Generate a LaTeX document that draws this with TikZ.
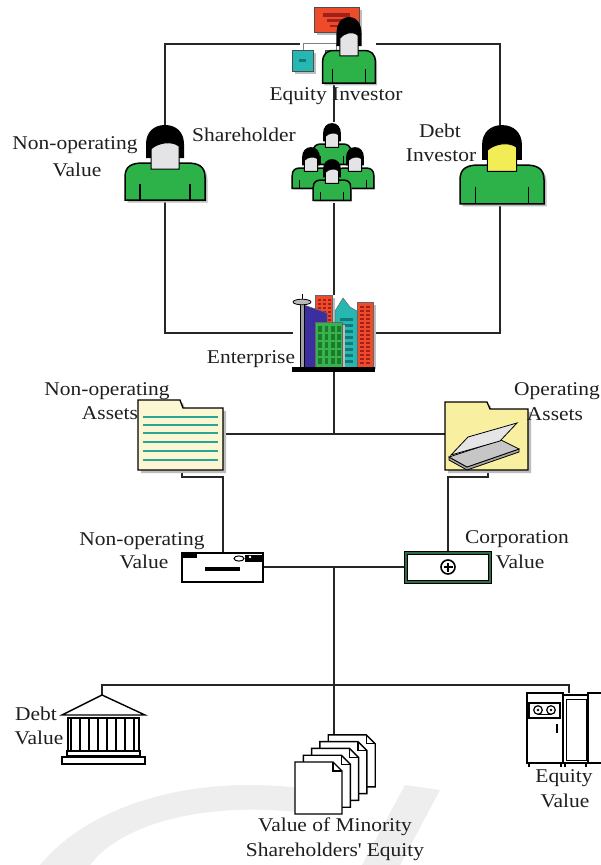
\documentclass[tikz,border=0pt]{standalone}
\usepackage{fontspec}
\setmainfont{Liberation Serif}[FakeStretch=1.1]
\usetikzlibrary{calc}
\definecolor{pgreen}{HTML}{2DB24A}
\definecolor{pface}{HTML}{E4E4E6}
\definecolor{pyellow}{HTML}{F2EC55}
\definecolor{pshadow}{HTML}{BDBDBD}
\definecolor{bred}{HTML}{EE4B2B}
\definecolor{bdred}{HTML}{A3201A}
\definecolor{bteal}{HTML}{27B7B3}
\definecolor{bdteal}{HTML}{147A78}
\definecolor{bblue}{HTML}{3B2E9E}
\definecolor{bgreen}{HTML}{35B44A}
\definecolor{bdgreen}{HTML}{1E7A2E}
\definecolor{fpale}{HTML}{FBF7D2}
\definecolor{fyellow}{HTML}{F8F0A0}
\definecolor{fline}{HTML}{2AA594}
\definecolor{cvgreen}{HTML}{2F6B45}
\definecolor{wmark}{HTML}{EEEEEE}
\newcommand\lblfont{\fontsize{19.5}{25}\selectfont}
\newcommand\PersonBody{(-40,37) -- (-40,14) .. controls (-40,3) and (-33,0) .. (-22,0) -- (22,0) .. controls (33,0) and (40,3) .. (40,14) -- (40,37) -- cycle}
\tikzset{
  pics/person/.style={code={
    \fill[pshadow,shift={(2.5,2.5)}] \PersonBody;
    \filldraw[fill=pgreen, draw=black, line width=1.5pt] \PersonBody;
    \draw[line width=1.2pt] (-25,37) -- (-25,21) (25,37) -- (25,21);
    \fill[black] (-19,-5) -- (-19,-19) .. controls (-19,-31) and (-11,-38) .. (0,-38) .. controls (11,-38) and (19,-31) .. (19,-19) -- (19,-5) -- cycle;
    \filldraw[fill=#1, draw=black, line width=1pt] (-14,6) -- (-14,-14) .. controls (-8,-20) and (6,-23) .. (14,-17) -- (14,6) -- cycle;
  }}
}
\begin{document}
\begin{tikzpicture}[x=1pt,y=-1pt,
  conn/.style={line width=1.5pt, draw=black!85},
  lbl/.style={anchor=base, inner sep=0pt, text=black!88, font=\lblfont},
  outl/.style={draw=black, line width=1.3pt},
  page/.style={fill=white, draw=black, line width=1.4pt, line join=miter}]
\useasboundingbox (0,0) rectangle (600,865);
\fill[white] (0,0) rectangle (600,865);

% faint background marks at the foot
\fill[wmark] (40,865) .. controls (90,805) and (190,775) .. (300,788) -- (296,812) .. controls (200,802) and (120,825) .. (90,865) -- cycle;
\fill[wmark] (405,785) -- (440,790) -- (400,865) -- (362,865) -- cycle;

% ---------- connection points ----------
\coordinate (eqL) at (300,44);
\coordinate (eqR) at (376,44);
\coordinate (eqB) at (334,75);
\coordinate (lpT) at (165,125);
\coordinate (lpB) at (165,200);
\coordinate (dbT) at (500,126);
\coordinate (dbB) at (500,204);
\coordinate (shT) at (334,122);
\coordinate (shB) at (334,203);
\coordinate (entT) at (334,295);
\coordinate (entL) at (293,333);
\coordinate (entR) at (375,333);
\coordinate (entB) at (334,372);
\coordinate (asJ) at (334,434);
\coordinate (naR) at (224,434);
\coordinate (oaL) at (445,434);
\coordinate (naB) at (182,470);
\coordinate (oaB) at (488,470);
\coordinate (nvT) at (223,553);
\coordinate (cvT) at (448,553);
\coordinate (nvR) at (263,567);
\coordinate (cvL) at (406,567);
\coordinate (vJ) at (334,567);
\coordinate (docT) at (334,735);
\coordinate (bankT) at (102,695);
\coordinate (macT) at (569,693);

% ---------- connectors ----------
\draw[conn] (eqL) -- (165,44) -- (lpT);
\draw[conn] (eqR) -- (500,44) -- (dbT);
\draw[conn] (eqB) -- (shT);
\draw[conn] (shB) -- (entT);
\draw[conn] (lpB) -- (165,333) -- (entL);
\draw[conn] (dbB) -- (500,333) -- (entR);
\draw[conn] (entB) -- (asJ);
\draw[conn] (naR) -- (oaL);
\draw[conn] (naB) -- (182,477) -- (223,477) -- (nvT);
\draw[conn] (oaB) -- (488,477) -- (448,477) -- (cvT);
\draw[conn] (nvR) -- (cvL);
\draw[conn] (vJ) -- (docT);
\draw[conn] (bankT) -- (102,685) -- (569,685) -- (macT);

% ---------- equity investor ----------
\fill[pshadow] (317,10) rectangle (362,35);
\filldraw[fill=bred, draw=black!70, line width=0.8pt] (314,7) rectangle (359,32);
\fill[bdred] (323,13) rectangle (350,16.5);
\fill[bdred] (327,19) rectangle (346,22);
\fill[bdred] (330,24.5) rectangle (341,27);
\draw[gray, line width=1pt] (303,50) -- (303,43) -- (336,43) -- (336,50);
\fill[pshadow] (295,53) rectangle (316,74);
\filldraw[fill=bteal, draw=black!70, line width=0.8pt] (292,50) rectangle (313,71);
\fill[bdteal] (299,58.5) rectangle (306,61.5);
\filldraw[fill=bteal, draw=black!70, line width=0.8pt] (325,50) rectangle (345,71);
\pic[xscale=0.66, yscale=0.88] at (349,50.5) {person=pface};

% ---------- left investor ----------
\pic at (165,163) {person=pface};

% ---------- shareholders ----------
\pic[xscale=0.47, yscale=0.55] at (332,144) {person=pface};
\pic[xscale=0.47, yscale=0.55] at (311,168) {person=pface};
\pic[xscale=0.47, yscale=0.55] at (355,168) {person=pface};
\pic[xscale=0.47, yscale=0.55] at (332,180) {person=pface};

% ---------- debt investor ----------
\pic[scale=1.05] at (502,165) {person=pyellow};

% ---------- enterprise ----------
\fill[pshadow] (318,298) rectangle (335,326);
\filldraw[fill=bred, draw=black!60, line width=0.5pt] (315,295) rectangle (332,323);
\foreach \r in {299,303,...,319} \foreach \c in {318,323,328} \fill[bdred] (\c,\r) rectangle ++(3,2);
\filldraw[fill=bblue, draw=black!60, line width=0.5pt] (304,305) -- (327,313) -- (327,369) -- (304,369) -- cycle;
\fill[pshadow] (360,305) rectangle (376,369);
\filldraw[fill=bteal, draw=black!60, line width=0.5pt] (335,369) -- (335,311) -- (343,298) -- (350,307) -- (357,311) -- (357,369) -- cycle;
\foreach \r in {318,324,...,362} \fill[bdteal] (340,\r) rectangle (353,\r+2.5);
\filldraw[fill=bred, draw=black!60, line width=0.5pt] (357,302) rectangle (373,369);
\foreach \r in {306,310,...,362} \foreach \c in {360,366} \fill[bdred] (\c,\r) rectangle ++(4,2);
\fill[pshadow] (318,325) rectangle (345,369);
\filldraw[fill=bgreen, draw=black!60, line width=0.5pt] (315,322) rectangle (342,369);
\foreach \r in {326,334,...,358} \foreach \c in {318,324.5,331,337} \fill[bdgreen] (\c,\r) rectangle ++(3.5,6);
\filldraw[fill=gray!75, draw=black, line width=0.8pt] (300,301) rectangle (304,369);
\filldraw[fill=gray!55, draw=black, line width=0.8pt] (302,302) ellipse (9 and 2.8);
\draw[black, line width=1pt] (302,294) -- (302,299);
\fill[black] (292,367) rectangle (375,372);

% ---------- non-operating assets folder ----------
\fill[pshadow] (141,403) -- (183,403) -- (186,411) -- (226,411) -- (226,473) -- (141,473) -- cycle;
\filldraw[fill=fpale, outl, line join=miter] (138,470) -- (138,400) -- (180,400) -- (183,408) -- (223,408) -- (223,470) -- cycle;
\foreach \y in {417,425,433,442,451,460} \draw[fline, line width=2pt] (143,\y) -- (218,\y);

% ---------- operating assets folder ----------
\fill[pshadow] (448,405) -- (490,405) -- (493,412) -- (531,412) -- (531,473) -- (448,473) -- cycle;
\filldraw[fill=fyellow, outl, line join=miter] (445,470) -- (445,402) -- (487,402) -- (490,409) -- (528,409) -- (528,470) -- cycle;
\filldraw[fill=gray!70, draw=black, line width=0.8pt] (449,457) -- (449,460) -- (467,470) -- (519,452) -- (519,449) -- (467,467) -- cycle;
\filldraw[fill=gray!45, draw=black, line width=0.8pt] (449,457) -- (467,467) -- (519,449) -- (501,440) -- cycle;
\filldraw[fill=gray!20, draw=black, line width=0.8pt] (451,455) -- (500,441) -- (517,423) -- (468,437) -- cycle;

% ---------- non-operating value device ----------
\filldraw[fill=white, draw=black, line width=1.8pt] (182,553) rectangle (263,582);
\fill[black] (182,553) rectangle (197,557.5);
\fill[black] (205,567) rectangle (240,571);
\draw[black, line width=1pt] (239,558.5) ellipse (5 and 2.6);
\fill[black] (245,555) rectangle (262,562);
\fill[white] (250,557) circle (1.3);

% ---------- corporation value device ----------
\filldraw[fill=white, draw=cvgreen, line width=3pt] (406,553) rectangle (490,582);
\draw[black, line width=0.8pt] (404.5,551.5) rectangle (491.5,583.5);
\draw[black, line width=0.8pt] (407.5,554.5) rectangle (488.5,580.5);
\draw[black, line width=1.6pt] (448,567) circle (7);
\draw[black, line width=2.6pt] (443.5,567) -- (452.5,567) (448,562.5) -- (448,571.5);

% ---------- bank ----------
\filldraw[fill=white, draw=black, line width=1.4pt, line join=miter] (62,715) -- (102,695) -- (145,715) -- cycle;
\draw[black, line width=1.2pt] (68,718) rectangle (139,751);
\foreach \x in {71,80,89,98,107,116,125,134} \draw[black, line width=1.2pt] (\x,718) -- (\x,751);
\draw[black, line width=1.2pt] (67,751) rectangle (140,756);
\draw[black, line width=1.2pt] (62,757) rectangle (145,764);

% ---------- documents ----------
\foreach \k in {4,3,2,1,0} {
  \begin{scope}[shift={(295+8.3*\k,762-6.8*\k)}]
    \draw[page] (0,0) -- (38,0) -- (47,9) -- (47,52) -- (0,52) -- cycle;
    \draw[black, line width=1.2pt] (38,0) -- (38,9) -- (47,9);
  \end{scope}
}

% ---------- equity value machine ----------
\draw[black, line width=1.3pt, fill=white] (588,693) rectangle (602,763);
\draw[black, line width=1.3pt, fill=white] (563,695) rectangle (588,763);
\draw[black, line width=1pt] (566,699) rectangle (586,760);
\draw[black, line width=1.3pt, fill=white] (527,693) rectangle (563,763);
\draw[black, line width=1.2pt] (529,703) rectangle (560,718);
\draw[black, line width=1.2pt] (538,710) circle (4.3) (551,710) circle (4.3);
\fill[black] (538,710) circle (1.4) (551,710) circle (1.4);
\draw[black, line width=1pt] (538,714.3) -- (551,714.3);
\fill[black] (555.5,724) rectangle (558,733);
\draw[black, line width=1.2pt] (529,763) -- (529,767) (561,763) -- (561,767) (565,763) -- (565,767) (586,763) -- (586,767);

% ---------- labels ----------
\node[lbl] (t-eqinv) at (336,100) {Equity Investor};
\node[lbl] (t-nov1) at (75,149) {Non-operating};
\node[lbl] (t-nov2) at (77,176) {Value};
\node[lbl] (t-sh) at (244,141) {Shareholder};
\node[lbl] (t-db1) at (440,137) {Debt};
\node[lbl] (t-db2) at (441,161) {Investor};
\node[lbl] (t-ent) at (251,363) {Enterprise};
\node[lbl] (t-noa1) at (107,395) {Non-operating};
\node[lbl] (t-noa2) at (110,419) {Assets};
\node[lbl] (t-oa1) at (557,395) {Operating};
\node[lbl] (t-oa2) at (555,420) {Assets};
\node[lbl] (t-nv1) at (142,545) {Non-operating};
\node[lbl] (t-nv2) at (144,568) {Value};
\node[lbl] (t-cv1) at (517,543) {Corporation};
\node[lbl] (t-cv2) at (520,568) {Value};
\node[lbl] (t-dv1) at (36,720) {Debt};
\node[lbl] (t-dv2) at (39,744) {Value};
\node[lbl] (t-mi1) at (335,831) {Value of Minority};
\node[lbl] (t-mi2) at (335,856) {Shareholders\textquotesingle\ Equity};
\node[lbl] (t-ev1) at (564,782) {Equity};
\node[lbl] (t-ev2) at (565,807) {Value};
\end{tikzpicture}
\end{document}
